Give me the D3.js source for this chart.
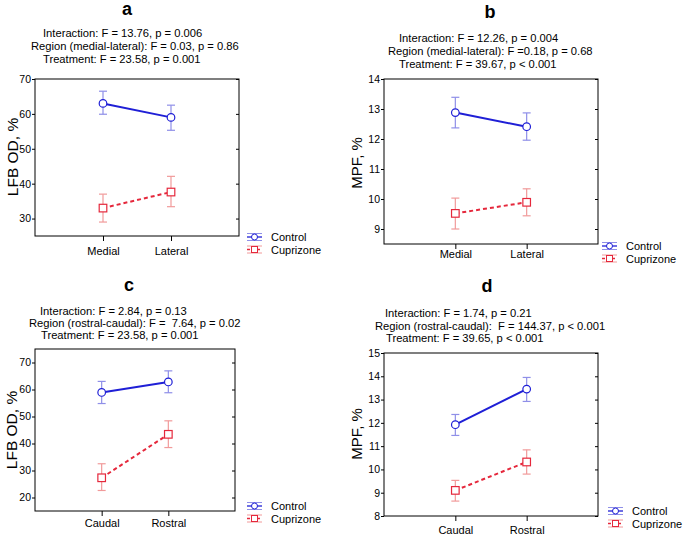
<!DOCTYPE html>
<html lang="en">
<head>
    <meta charset="UTF-8">
    <title>LFB OD and MPF by region and treatment</title>
    <script src="https://d3js.org/d3.v7.min.js"></script>
    <style>
        body { margin: 0; background: #fff; }
        svg { font-family: Arial, "Liberation Sans", sans-serif; }
    </style>
</head>
<body>
    <svg id="chart" width="685" height="535"></svg>

    <script>
        // ---- data ----
        const panelLetters = ["a", "b", "c", "d"];
        const seriesNames = ["Control", "Cuprizone"];
        const xCategories = [
            ["Medial", "Lateral"],
            ["Medial", "Lateral"],
            ["Caudal", "Rostral"],
            ["Caudal", "Rostral"]
        ];
        const yLabels = ["LFB OD, %", "MPF, %", "LFB OD, %", "MPF, %"];
        const yDomains = [[25, 70], [8.5, 14], [15, 75], [8, 15]];
        const yTickValues = [
            [30, 40, 50, 60, 70],
            [9, 10, 11, 12, 13, 14],
            [20, 30, 40, 50, 60, 70],
            [8, 9, 10, 11, 12, 13, 14, 15]
        ];

        const controlMean = [[63.0, 59.0], [12.88, 12.41], [58.9, 62.8], [11.92, 13.45]];
        const controlLow  = [[59.9, 55.3], [12.37, 11.96], [54.8, 58.8], [11.46, 12.92]];
        const controlHigh = [[66.5, 62.5], [13.39, 12.87], [63.0, 66.9], [12.36, 13.95]];

        const cuprizoneMean = [[33.0, 37.6], [9.52, 9.89], [27.3, 43.4], [9.10, 10.32]];
        const cuprizoneLow  = [[29.0, 33.4], [9.00, 9.44], [22.6, 38.5], [8.64, 9.80]];
        const cuprizoneHigh = [[37.0, 42.1], [10.03, 10.34], [32.5, 48.4], [9.53, 10.84]];

        const statsLines = [
            ["Interaction: F = 13.76, p = 0.006",
             "Region (medial-lateral): F = 0.03, p = 0.86",
             "Treatment: F = 23.58, p = 0.001"],
            ["Interaction: F = 12.26, p = 0.004",
             "Region (medial-lateral): F =0.18, p = 0.68",
             "Treatment: F = 39.67, p < 0.001"],
            ["Interaction: F = 2.84, p = 0.13",
             "Region (rostral-caudal): F =  7.64, p = 0.02",
             "Treatment: F = 23.58, p = 0.001"],
            ["Interaction: F = 1.74, p = 0.21",
             "Region (rostral-caudal):  F = 144.37, p < 0.001",
             "Treatment: F = 39.65, p < 0.001"]
        ];

        // ---- layout ----
        const layout = [
            { x0: 35,  x1: 239, y0: 79,  y1: 236, letter: [127, 15],  stats: [[43, 37], [31, 50], [43, 63]],
              ylab: [18, 157], xlabDy: 19, legend: [247, 237] },
            { x0: 384, x1: 598, y0: 79,  y1: 244, letter: [490, 18],  stats: [[399, 42], [388, 55], [399, 68]],
              ylab: [362, 163], xlabDy: 14, legend: [602, 246] },
            { x0: 35,  x1: 235, y0: 349, y1: 511, letter: [129, 291], stats: [[40, 315], [29, 327], [41, 339]],
              ylab: [17, 430], xlabDy: 16, legend: [247, 506] },
            { x0: 384, x1: 598, y0: 353, y1: 516, letter: [487, 292], stats: [[385, 317], [375, 330], [386, 342]],
              ylab: [362, 434], xlabDy: 18, legend: [608, 511] }
        ];

        const colors = {
            Control:   { line: "#1f1fd6", err: "#8f8fe8" },
            Cuprizone: { line: "#e5283c", err: "#f19a9a" }
        };

        const svg = d3.select("#chart");

        panelLetters.forEach((letter, i) => {
            const L = layout[i];
            const g = svg.append("g");

            const x = d3.scalePoint().domain(xCategories[i]).range([L.x0, L.x1]).padding(1);
            const y = d3.scaleLinear().domain(yDomains[i]).range([L.y1, L.y0]);

            // panel letter
            g.append("text")
                .attr("x", L.letter[0]).attr("y", L.letter[1])
                .attr("text-anchor", "middle")
                .style("font-size", "18px").style("font-weight", "bold")
                .text(letter);

            // stats text
            statsLines[i].forEach((s, j) => {
                g.append("text")
                    .attr("x", L.stats[j][0]).attr("y", L.stats[j][1])
                    .style("font-size", "11.2px")
                    .style("white-space", "pre")
                    .attr("xml:space", "preserve")
                    .text(s);
            });

            // frame
            g.append("rect")
                .attr("x", L.x0).attr("y", L.y0)
                .attr("width", L.x1 - L.x0).attr("height", L.y1 - L.y0)
                .attr("fill", "none").attr("stroke", "#000").attr("stroke-width", 1);

            // y axis
            const yAxis = g.append("g")
                .attr("transform", `translate(${L.x0},0)`)
                .call(d3.axisLeft(y).tickValues(yTickValues[i]).tickSize(3).tickPadding(1).tickFormat(d3.format("d")));
            yAxis.select(".domain").remove();
            yAxis.selectAll("text").style("font-size", "10.5px").attr("fill", "#000");

            // small inner ticks on the right side
            g.append("g")
                .attr("transform", `translate(${L.x1},0)`)
                .call(d3.axisLeft(y).tickValues(yTickValues[i]).tickSize(3).tickFormat(""))
                .select(".domain").remove();

            // x axis
            const xAxis = g.append("g")
                .attr("transform", `translate(0,${L.y1})`)
                .call(d3.axisBottom(x).tickSize(5).tickPadding(L.xlabDy - 13));
            xAxis.select(".domain").remove();
            xAxis.selectAll("text").style("font-size", "11px").attr("fill", "#000");

            // y label
            g.append("text")
                .attr("transform", `translate(${L.ylab[0]},${L.ylab[1]}) rotate(-90)`)
                .attr("text-anchor", "middle")
                .style("font-size", i % 2 ? "15px" : "15.5px")
                .text(yLabels[i]);

            // series
            const seriesData = [
                { name: "Control", mean: controlMean[i], low: controlLow[i], high: controlHigh[i] },
                { name: "Cuprizone", mean: cuprizoneMean[i], low: cuprizoneLow[i], high: cuprizoneHigh[i] }
            ];

            seriesData.forEach(s => {
                const pts = xCategories[i].map((c, k) => ({ c, m: s.mean[k], lo: s.low[k], hi: s.high[k] }));
                const col = colors[s.name];

                // error bars
                pts.forEach(p => {
                    const px = x(p.c);
                    g.append("line")
                        .attr("x1", px).attr("x2", px).attr("y1", y(p.lo)).attr("y2", y(p.hi))
                        .attr("stroke", col.err).attr("stroke-width", 1.2);
                    [p.lo, p.hi].forEach(v => {
                        g.append("line")
                            .attr("x1", px - 4).attr("x2", px + 4).attr("y1", y(v)).attr("y2", y(v))
                            .attr("stroke", col.err).attr("stroke-width", 1.2);
                    });
                });

                // connecting line
                g.append("path")
                    .datum(pts)
                    .attr("d", d3.line().x(p => x(p.c)).y(p => y(p.m)))
                    .attr("fill", "none")
                    .attr("stroke", col.line)
                    .attr("stroke-width", 2)
                    .attr("stroke-dasharray", s.name === "Cuprizone" ? "4,3" : null);

                // markers
                pts.forEach(p => {
                    if (s.name === "Control") {
                        g.append("circle")
                            .attr("cx", x(p.c)).attr("cy", y(p.m)).attr("r", 3.8)
                            .attr("fill", "#fff").attr("stroke", col.line).attr("stroke-width", 1.2);
                    } else {
                        g.append("rect")
                            .attr("x", x(p.c) - 3.8).attr("y", y(p.m) - 3.8)
                            .attr("width", 7.6).attr("height", 7.6)
                            .attr("fill", "#fff").attr("stroke", col.line).attr("stroke-width", 1.2);
                    }
                });
            });

            // legend
            seriesNames.forEach((name, k) => {
                const lx = L.legend[0], ly = L.legend[1] + k * 12.5;
                const col = colors[name];
                [-3.5, 3.5].forEach(dy => {
                    g.append("line")
                        .attr("x1", lx).attr("x2", lx + 15).attr("y1", ly + dy).attr("y2", ly + dy)
                        .attr("stroke", col.err).attr("stroke-width", 1);
                });
                g.append("line")
                    .attr("x1", lx).attr("x2", lx + 15).attr("y1", ly).attr("y2", ly)
                    .attr("stroke", col.line).attr("stroke-width", 1.3)
                    .attr("stroke-dasharray", name === "Cuprizone" ? "3,2" : null);
                if (name === "Control") {
                    g.append("circle").attr("cx", lx + 7.5).attr("cy", ly).attr("r", 3)
                        .attr("fill", "#fff").attr("stroke", col.line);
                } else {
                    g.append("rect").attr("x", lx + 4.5).attr("y", ly - 3).attr("width", 6).attr("height", 6)
                        .attr("fill", "#fff").attr("stroke", col.line);
                }
                g.append("text")
                    .attr("x", lx + 24).attr("y", ly + 4)
                    .style("font-size", "11px")
                    .text(name);
            });
        });
    </script>
</body>
</html>
